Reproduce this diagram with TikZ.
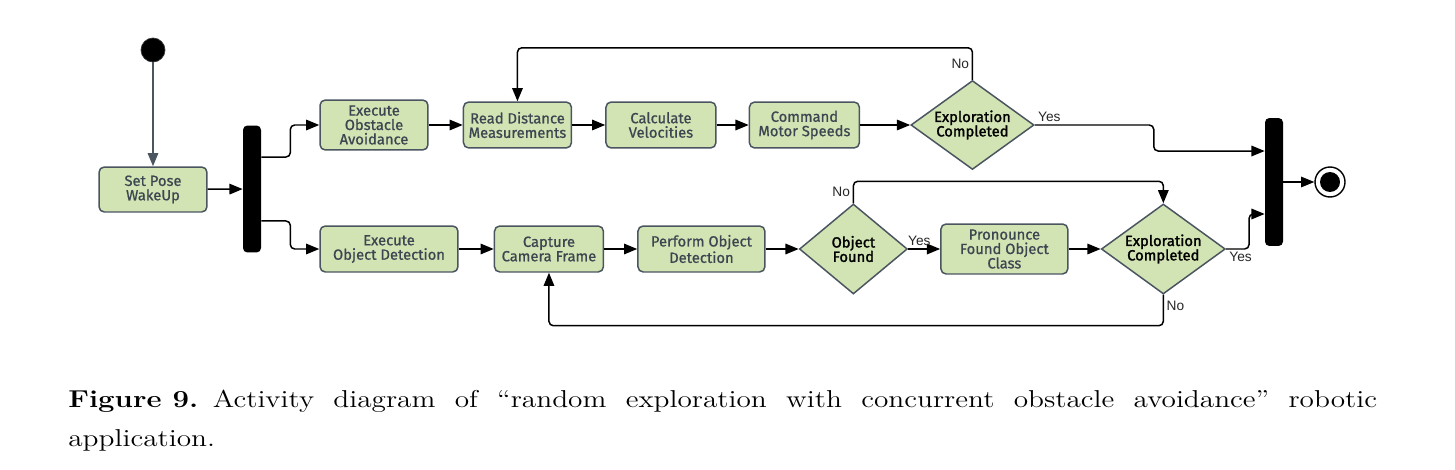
\documentclass[tikz,border=0pt]{standalone}
\usepackage{fontspec}
\usetikzlibrary{positioning,shapes.geometric,arrows.meta}
\newfontfamily\boxfont{Fira Sans}[FakeBold=0.9]
\newfontfamily\decfont{Fira Sans}[FakeBold=1.6]
\newfontfamily\lblfont{Liberation Sans}
\newfontfamily\capfont{lmroman12}[Extension=.otf, UprightFont=*-regular, BoldFont=*-bold, FakeStretch=1.2]
\definecolor{actfill}{HTML}{D3E4B4}
\definecolor{actline}{HTML}{4A5560}
\definecolor{acttext}{HTML}{3C4651}

\begin{document}
\begin{tikzpicture}[%
    x=0.02cm, y=-0.02cm,
    >={Triangle[length=7.5pt,width=6pt]},
    node distance=0.66cm,
    activity/.style={%
      rectangle, rounded corners=3pt,
      draw=actline, line width=0.85pt, fill=actfill,
      minimum width=2.16cm, minimum height=0.92cm,
      inner sep=1pt, align=center, text=acttext,
      font=\boxfont\fontsize{8.4}{8.2}\selectfont
    },
    decision/.style={%
      diamond, aspect=1.6, draw=actline, line width=0.85pt, fill=actfill,
      inner sep=0pt, align=center, text=black,
      font=\decfont\fontsize{8.4}{8.2}\selectfont
    },
    syncbar/.style={rectangle, rounded corners=2.5pt, fill=black,
      minimum width=0.36cm, minimum height=2.54cm, inner sep=0pt},
    flow/.style={->, line width=0.85pt, rounded corners=2.5pt},
    lbl/.style={font=\lblfont\fontsize{7.8}{8}\selectfont, text=black!85, inner sep=1.5pt}
  ]
  \useasboundingbox (0,0) rectangle (1455,470);

  \node[circle, fill=black, draw=black!80, minimum size=0.48cm, inner sep=0pt] (start) at (153,50) {};
  \node[activity, minimum height=0.9cm] (setpose) at (153,189.5) {Set Pose\\WakeUp};
  \node[syncbar] (fork) at (252,189) {};

  \node[activity, minimum height=1.0cm] (avoid) at (374,125) {Execute\\Obstacle\\Avoidance};
  \node[activity] (readdist) [right=0.68cm of avoid] {Read Distance\\Measurements};
  \node[activity, minimum width=2.2cm] (calcvel) [right=of readdist] {Calculate\\Velocities};
  \node[activity, minimum width=2.2cm] (motors) [right=0.64cm of calcvel] {Command\\Motor Speeds};
  \node[decision, minimum width=2.46cm, minimum height=1.78cm] (explA) [right=1.0cm of motors] {Exploration\\Completed};

  \node[activity, minimum width=2.76cm] (detect) at (389,249) {Execute\\Object Detection};
  \node[activity, minimum width=2.18cm] (capture) [right=0.7cm of detect] {Capture\\Camera Frame};
  \node[activity, minimum width=2.54cm] (perform) [right=of capture] {Perform Object\\Detection};
  \node[decision, minimum width=2.16cm, minimum height=1.8cm] (found) [right=of perform] {Object\\Found};
  \node[activity, minimum width=2.54cm, minimum height=1.0cm] (pronounce) [right=0.64cm of found] {Pronounce\\Found Object\\Class};
  \node[decision, minimum width=2.48cm, minimum height=1.8cm] (explB) [right=0.64cm of pronounce] {Exploration\\Completed};

  \node[syncbar, minimum height=2.56cm] (join) at (1274,182) {};
  \node[circle, draw=black, line width=0.8pt, minimum size=0.6cm, inner sep=0pt] (finish) at (1330,182) {};
  \node[circle, fill=black, minimum size=0.4cm, inner sep=0pt] (finishdot) at (finish) {};

  \draw[flow, draw=actline] (start) -- (setpose);
  \draw[flow] (setpose) -- (fork);
  \draw[flow] ([yshift=0.64cm]fork.east) -- ++(0.58cm,0) |- (avoid);
  \draw[flow] ([yshift=-0.64cm]fork.east) -- ++(0.58cm,0) |- (detect);

  \draw[flow] (avoid) -- (readdist);
  \draw[flow] (readdist) -- (calcvel);
  \draw[flow] (calcvel) -- (motors);
  \draw[flow] (motors) -- (explA);
  \draw[flow] (explA.north) -- node[lbl, left] {No} ++(0,0.64cm) -| (readdist.north);
  \draw[flow] (explA.east) node[lbl, anchor=south west] {Yes} -- ++(2.38cm,0) |- ([yshift=0.62cm]join.west);

  \draw[flow] (detect) -- (capture);
  \draw[flow] (capture) -- (perform);
  \draw[flow] (perform) -- (found);
  \draw[flow] (found) -- node[lbl, above, pos=0.35] {Yes} (pronounce);
  \draw[flow] (pronounce) -- (explB);
  \draw[flow] (found.north) -- node[lbl, left] {No} ++(0,0.44cm) -| (explB.north);
  \draw[flow] (explB.south) -- node[lbl, right, pos=0.35] {No} ++(0,-0.62cm) -| (capture.south);
  \draw[flow] (explB.east) node[lbl, anchor=north west] {Yes} -- ++(0.46cm,0) |- ([yshift=-0.64cm]join.west);
  \draw[flow, line width=0.6pt] (join) -- (finish);

  \node[anchor=base west, text width=26.18cm, align=justify, inner sep=0pt,
    font=\capfont\fontsize{13.9}{22.7}\selectfont] (caption) at (68,407)
    {\textbf{\mbox{Figure 9.}}\hspace{0.6em}Activity diagram of “random exploration with concurrent obstacle avoidance” robotic\linebreak application.};
\end{tikzpicture}
\end{document}
